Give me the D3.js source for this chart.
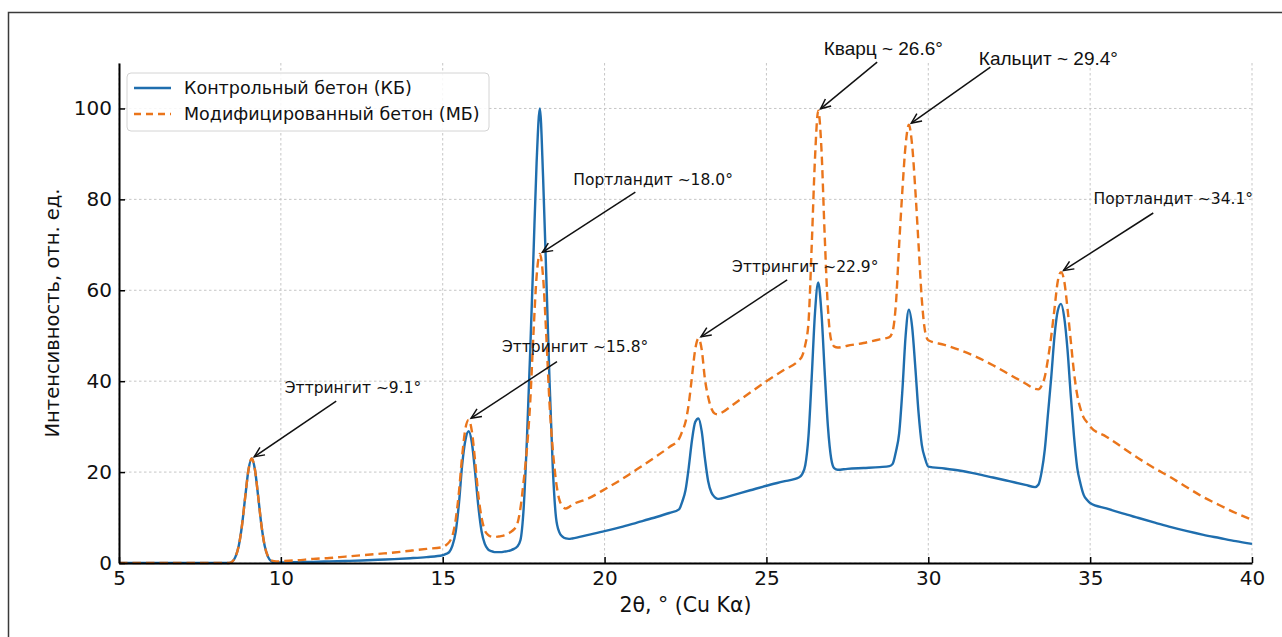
<!DOCTYPE html>
<html>
<head>
<meta charset="utf-8">
<script src="https://cdn.jsdelivr.net/npm/d3@7"></script>
<style>
body { margin: 0; background: #fff; }
svg { display: block; font-family: "DejaVu Sans", sans-serif; }
.grid line { stroke: #c6c6c6; stroke-width: 1; stroke-dasharray: 2.5,2.5; }
.ann { font-size: 15.5px; fill: #111; }
.ann.top { font-family: "Liberation Sans", sans-serif; font-size: 19px; }
</style>
</head>
<body>
<svg id="chart" width="1282" height="637"></svg>
<script>
// 2θ positions (denser around the peaks)
var twoTheta = [
	5, 6, 7, 8, 8.4, 8.5, 8.6, 8.7, 8.8, 8.9, 9.0, 9.1, 9.2, 9.3, 9.4, 9.5, 9.6, 9.7, 9.8, 9.9,
	10, 10.5, 11, 11.5, 12, 12.5, 13, 13.5, 14, 14.5, 15,
	15.1, 15.2, 15.3, 15.4, 15.5, 15.6, 15.7, 15.8, 15.9, 16.0, 16.1, 16.2, 16.3, 16.4, 16.5, 16.6, 16.7, 16.8, 16.9, 17.0,
	17.1, 17.2, 17.3, 17.4, 17.5, 17.6, 17.7, 17.8, 17.9, 18.0, 18.1, 18.2, 18.3, 18.4, 18.5, 18.6, 18.7, 18.8, 18.9, 19.0,
	19.5, 20, 20.5, 21, 21.5, 22, 22.3,
	22.4, 22.5, 22.6, 22.7, 22.8, 22.9, 23.0, 23.1, 23.2, 23.3, 23.4, 23.5, 23.6,
	24, 24.5, 25, 25.5, 26,
	26.1, 26.2, 26.3, 26.4, 26.5, 26.6, 26.7, 26.8, 26.9, 27.0, 27.1, 27.2,
	27.5, 28, 28.5, 28.8,
	28.9, 29.0, 29.1, 29.2, 29.3, 29.4, 29.5, 29.6, 29.7, 29.8, 29.9, 30.0,
	30.5, 31, 31.5, 32, 32.5, 33, 33.3,
	33.4, 33.5, 33.6, 33.7, 33.8, 33.9, 34.0, 34.1, 34.2, 34.3, 34.4, 34.5, 34.6, 34.7, 34.8, 34.9, 35.0,
	35.5, 36, 36.5, 37, 37.5, 38, 38.5, 39, 39.5, 40
];

// Контрольный бетон
var kb = [
	0, 0, 0, 0, 0, 0.3, 1.4, 3.8, 8.3, 14.6, 20.5, 23, 20.5, 14.6, 8.3, 3.8, 1.4, 0.4, 0.1, 0.1,
	0.1, 0.2, 0.25, 0.35, 0.45, 0.55, 0.7, 0.85, 1.05, 1.3, 1.7,
	2.0, 2.4, 3.8, 6.8, 13, 21.5, 27, 29, 26.5, 20, 12.5, 7, 4.2, 3.0, 2.6, 2.4, 2.4, 2.4, 2.5, 2.6,
	2.8, 3.1, 3.6, 5, 12, 27, 46, 67, 88, 100, 85, 63, 40, 21, 10, 6.8, 5.8, 5.4, 5.3, 5.4,
	6.2, 7.0, 7.9, 8.9, 9.9, 11.0, 11.8,
	13.5, 16, 21, 27, 31, 31.8, 29, 23, 18, 15.5, 14.5, 14.1, 14.2,
	15.0, 16.0, 17.0, 17.9, 18.8,
	19.5, 21.5, 28, 41, 55, 61.7, 55, 42, 30, 23, 20.8, 20.5,
	20.7, 20.9, 21.1, 21.3,
	21.8, 24.5, 28.5, 38, 50, 55.7, 52, 43, 33, 26, 23, 21.2,
	20.8, 20.3, 19.6, 18.8, 18.0, 17.2, 16.7,
	17.2, 20, 25, 33, 41, 50, 55.5, 57, 54, 47, 37, 28, 21, 17.5, 15, 13.9, 13.2,
	12.0, 10.9, 9.9, 8.9, 7.9, 7.0, 6.2, 5.5, 4.8, 4.2
];

// Модифицированный бетон
var mb = [
	0, 0, 0, 0, 0, 0.3, 1.4, 3.8, 8.3, 14.6, 20.5, 23, 20.5, 14.6, 8.3, 3.8, 1.5, 0.6, 0.4, 0.35,
	0.4, 0.6, 0.9, 1.1, 1.4, 1.7, 2.0, 2.3, 2.7, 3.1, 3.5,
	3.9, 4.6, 6, 9.5, 15.5, 23.5, 29.5, 31.5, 29, 22.5, 15, 10, 7.2, 6.2, 5.8, 5.7, 5.8, 5.9, 6.1, 6.4,
	6.8, 7.4, 8.5, 12, 18, 25, 35, 50, 63, 68, 63, 50, 35, 25, 18, 14, 12.5, 12, 12.3, 12.8,
	14.2, 16.2, 18.3, 20.6, 23, 25.5, 27.3,
	29, 31, 35, 41, 47, 49.4, 47, 40.5, 36.5, 34, 32.9, 32.7, 33,
	35, 37.5, 40, 42.3, 44.6,
	45.5, 48, 53, 70, 89, 99.5, 91, 72, 56, 49, 47.6, 47.4,
	47.8, 48.4, 49.2, 49.7,
	51, 57, 70, 82, 92, 96.4, 92, 82, 70, 58, 51, 49,
	48, 46.8, 45.3, 43.5, 41.5, 39.5, 38.3,
	38.2, 39, 41, 45, 50, 56, 62, 64, 62, 56, 49, 42, 37, 34, 32, 31, 30,
	27.8, 25.4, 23, 20.8, 18.8, 16.6, 14.5, 12.7, 11, 9.5
];

var seriesNames = ["Контрольный бетон (КБ)", "Модифицированный бетон (МБ)"];
var xTicks = [5, 10, 15, 20, 25, 30, 35, 40];
var yTicks = [0, 20, 40, 60, 80, 100];

// peak labels: text, peak point, label centre and arrow start, all in data units
var peakLabels = ["Эттрингит ~9.1°", "Эттрингит ~15.8°", "Портландит ~18.0°", "Эттрингит ~22.9°",
	"Кварц ~ 26.6°", "Кальцит ~ 29.4°", "Портландит ~34.1°"];
var peakX = [9.1, 15.8, 18.0, 22.9, 26.6, 29.4, 34.1];
var peakY = [23, 31.5, 68, 49.4, 99.5, 96.4, 64];
var labelX = [12.23, 19.09, 21.5, 26.2, 28.61, 33.71, 37.57];
var labelY = [38.5, 47.5, 84.3, 65.1, 113.3, 110.9, 80.1];
var arrowX = [11.71, 18.53, 20.95, 25.64, 28.42, 31.92, 36.95];
var arrowY = [35.6, 44.3, 81.6, 62.3, 110.2, 109.1, 77.0];

var blue = "#1f6eae";
var orange = "#ea751b";

var svg = d3.select("#chart");
svg.append("rect").attr("width", 1282).attr("height", 637).attr("fill", "#fff");
// outer frame of the figure
svg.append("rect")
	.attr("x", 8.5).attr("y", 12.5).attr("width", 1320).attr("height", 700)
	.attr("fill", "none").attr("stroke", "#3a3a3a").attr("stroke-width", 1.5);

var plotLeft = 119, plotRight = 1252, plotTop = 63, plotBottom = 563;
var x = d3.scaleLinear().domain([5, 40]).range([plotLeft, plotRight]);
var y = d3.scaleLinear().domain([0, 110]).range([plotBottom, plotTop]);

//grid
var grid = svg.append("g").attr("class", "grid");
grid.selectAll(".gx").data(xTicks).enter().append("line")
	.attr("x1", function(d) { return x(d); }).attr("x2", function(d) { return x(d); })
	.attr("y1", plotTop).attr("y2", plotBottom);
grid.selectAll(".gy").data(yTicks).enter().append("line")
	.attr("x1", plotLeft).attr("x2", plotRight)
	.attr("y1", function(d) { return y(d); }).attr("y2", function(d) { return y(d); });

//lines
var rows = twoTheta.map(function(t, i) { return {t: t, kb: kb[i], mb: mb[i]}; });
var lineKb = d3.line().x(function(d) { return x(d.t); }).y(function(d) { return y(d.kb); }).curve(d3.curveMonotoneX);
var lineMb = d3.line().x(function(d) { return x(d.t); }).y(function(d) { return y(d.mb); }).curve(d3.curveMonotoneX);

svg.append("path").datum(rows).attr("d", lineKb)
	.attr("fill", "none").attr("stroke", blue).attr("stroke-width", 2.4).attr("stroke-linejoin", "round");
svg.append("path").datum(rows).attr("d", lineMb)
	.attr("fill", "none").attr("stroke", orange).attr("stroke-width", 2.4)
	.attr("stroke-dasharray", "8.5,5");

//axes
var xAxis = svg.append("g").attr("transform", "translate(0," + plotBottom + ")")
	.call(d3.axisBottom(x).tickValues(xTicks).tickSizeInner(-6).tickSizeOuter(0).tickPadding(8));
var yAxis = svg.append("g").attr("transform", "translate(" + plotLeft + ",0)")
	.call(d3.axisLeft(y).tickValues(yTicks).tickSizeInner(-6).tickSizeOuter(0).tickPadding(7));
[xAxis, yAxis].forEach(function(a) {
	a.select(".domain").attr("stroke", "#000").attr("stroke-width", 2);
	a.selectAll(".tick line").attr("stroke", "#000").attr("stroke-width", 1.5);
	a.selectAll(".tick text").attr("font-size", 20).attr("font-family", "DejaVu Sans").attr("fill", "#111");
});

svg.append("text")
	.attr("x", (plotLeft + plotRight) / 2).attr("y", 605)
	.attr("text-anchor", "middle").attr("dominant-baseline", "central")
	.attr("font-size", 20.5).attr("fill", "#111")
	.text("2θ, ° (Cu Kα)");
svg.append("text")
	.attr("transform", "translate(52," + ((plotTop + plotBottom) / 2) + ") rotate(-90)")
	.attr("text-anchor", "middle").attr("dominant-baseline", "central")
	.attr("font-size", 19.5).attr("fill", "#111")
	.text("Интенсивность, отн. ед.");

//annotations
var ann = svg.append("g");
peakLabels.forEach(function(label, i) {
	var x0 = x(arrowX[i]), y0 = y(arrowY[i]);
	var x1 = x(peakX[i]), y1 = y(peakY[i]);
	var dx = x1 - x0, dy = y1 - y0, len = Math.sqrt(dx * dx + dy * dy);
	var ux = dx / len, uy = dy / len;
	// shrink a little so the head stops just off the curve
	x1 -= ux * 3; y1 -= uy * 3;
	ann.append("line")
		.attr("x1", x0).attr("y1", y0).attr("x2", x1).attr("y2", y1)
		.attr("stroke", "#111").attr("stroke-width", 1.5);
	var hl = 10, hw = 4.5;
	var head = [
		[x1 - ux * hl + uy * hw, y1 - uy * hl - ux * hw],
		[x1, y1],
		[x1 - ux * hl - uy * hw, y1 - uy * hl + ux * hw]
	];
	ann.append("path").attr("d", d3.line()(head))
		.attr("fill", "none").attr("stroke", "#111").attr("stroke-width", 1.5);
	ann.append("text")
		.attr("class", labelY[i] > 105 ? "ann top" : "ann")
		.attr("x", x(labelX[i])).attr("y", y(labelY[i]))
		.attr("text-anchor", "middle").attr("dominant-baseline", "central")
		.text(label);
});

//legend
var legend = svg.append("g");
legend.append("rect")
	.attr("x", 127).attr("y", 73).attr("width", 362).attr("height", 58).attr("rx", 4)
	.attr("fill", "#fff").attr("fill-opacity", 0.85).attr("stroke", "#d4d4d4");
[blue, orange].forEach(function(c, i) {
	var ly = 88 + i * 26;
	legend.append("line")
		.attr("x1", 134).attr("x2", 171).attr("y1", ly).attr("y2", ly)
		.attr("stroke", c).attr("stroke-width", 2.4)
		.attr("stroke-dasharray", i === 1 ? "7,5" : null);
	legend.append("text")
		.attr("x", 184).attr("y", ly)
		.attr("dominant-baseline", "central")
		.attr("font-size", 17.5).attr("fill", "#111")
		.text(seriesNames[i]);
});
</script>
</body>
</html>
